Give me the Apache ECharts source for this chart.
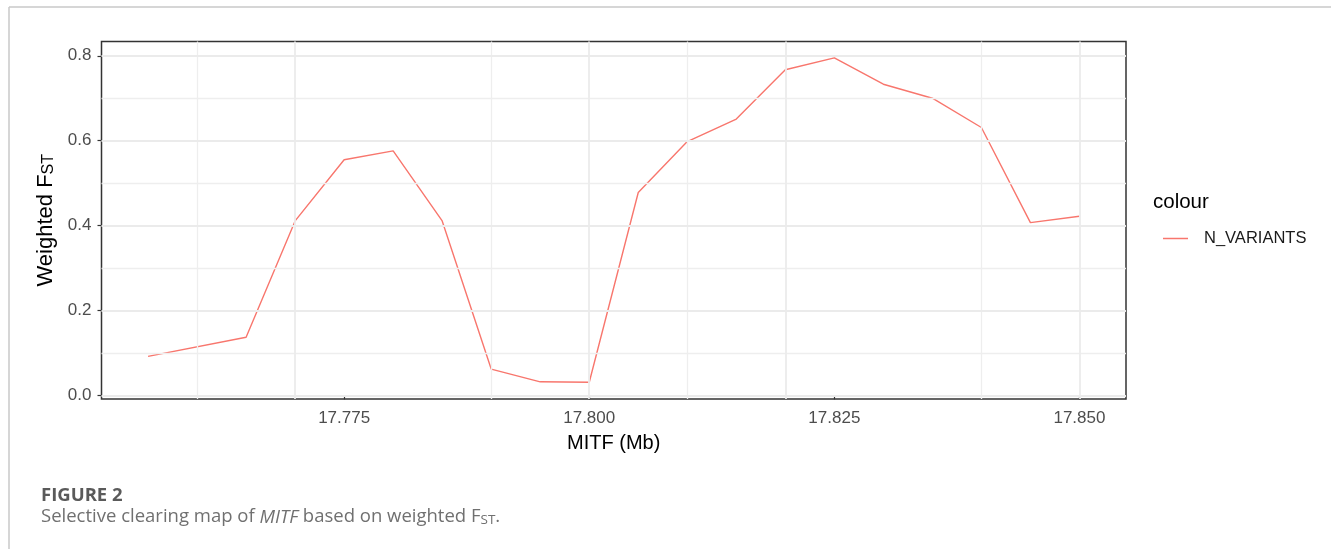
<!DOCTYPE html>
<html><head><meta charset="utf-8">
<script src="https://cdn.jsdelivr.net/npm/echarts@6/dist/echarts.min.js"></script>
<style>html,body{margin:0;padding:0;background:#fff}#c{width:1331px;height:549px}</style>
</head><body><div id="c"></div>
<script>
// ---- data ----
const positionsMb = [17.755, 17.765, 17.770, 17.775, 17.780, 17.785, 17.790, 17.795, 17.800, 17.805,
                     17.810, 17.815, 17.820, 17.825, 17.830, 17.835, 17.840, 17.845, 17.850];
const weightedFst = [0.092, 0.137, 0.411, 0.555, 0.576, 0.411, 0.062, 0.032, 0.031, 0.478,
                     0.598, 0.651, 0.767, 0.795, 0.733, 0.700, 0.631, 0.407, 0.422];
const xTickValues = [17.775, 17.800, 17.825, 17.850];
const xMinorValues = [17.7625, 17.7875, 17.8125, 17.8375];
const yTickValues = [0.0, 0.2, 0.4, 0.6, 0.8];
const yMinorValues = [0.1, 0.3, 0.5, 0.7];
const seriesName = 'N_VARIANTS';
const legendTitle = 'colour';
const xTitle = 'MITF (Mb)';
const figureLabel = 'FIGURE 2';

const chart = echarts.init(document.getElementById('c'), null, {renderer: 'canvas'});
const FONT = 'Liberation Sans';
const lineData = positionsMb.map((x, i) => [x, weightedFst[i]]);
const gridMajor = {color: '#ebebeb', width: 1.8, type: 'solid'};
const gridMinor = {color: '#eeeeee', width: 1.3, type: 'solid'};
const markData = [
  ...xMinorValues.map(v => ({xAxis: v, lineStyle: gridMinor})),
  ...yMinorValues.map(v => ({yAxis: v, lineStyle: gridMinor})),
  ...xTickValues.map(v => ({xAxis: v, lineStyle: gridMajor})),
  ...yTickValues.map(v => ({yAxis: v, lineStyle: gridMajor}))
];

chart.setOption({
  animation: false,
  backgroundColor: '#fff',
  grid: {left: 101.5, right: 205, top: 41.5, bottom: 150, show: true,
         borderColor: '#333', borderWidth: 1.5, backgroundColor: 'transparent', containLabel: false},
  xAxis: {
    type: 'value', min: 17.75025, max: 17.85475,
    name: xTitle, nameLocation: 'middle', nameGap: 34,
    nameTextStyle: {fontFamily: FONT, fontSize: 20, color: '#000'},
    axisLine: {show: false},
    axisTick: {show: true, customValues: xTickValues, length: 4, lineStyle: {color: '#333', width: 1.2}},
    axisLabel: {customValues: xTickValues, formatter: v => v.toFixed(3), color: '#4d4d4d',
                fontSize: 17, fontFamily: FONT, margin: 11},
    splitLine: {show: false}, minorSplitLine: {show: false}
  },
  yAxis: {
    type: 'value', min: -0.0085, max: 0.8336,
    name: '{a|Weighted F}{s|ST}', nameLocation: 'middle', nameGap: 41, nameRotate: 90,
    nameTextStyle: {fontFamily: FONT, fontSize: 22, color: '#000',
      rich: {a: {fontFamily: FONT, fontSize: 22, color: '#000', lineHeight: 26, verticalAlign: 'bottom'},
             s: {fontFamily: FONT, fontSize: 16, color: '#000', lineHeight: 16, verticalAlign: 'bottom'}}},
    axisLine: {show: false},
    axisTick: {show: true, customValues: yTickValues, length: 4, lineStyle: {color: '#333', width: 1.2}},
    axisLabel: {customValues: yTickValues, formatter: v => v.toFixed(1), color: '#4d4d4d',
                fontSize: 17, fontFamily: FONT, margin: 10},
    splitLine: {show: false}, minorSplitLine: {show: false}
  },
  legend: {
    data: [seriesName], left: 1158, top: 225, orient: 'vertical', selectedMode: false,
    icon: 'rect', itemWidth: 25, itemHeight: 1.5,
    textStyle: {fontFamily: FONT, fontSize: 16.5, color: '#1a1a1a', padding: [0, 0, 0, 11]}
  },
  series: [
    {type: 'line', name: 'grid', data: [], silent: true, z: -1,
     markLine: {silent: true, symbol: ['none', 'none'], label: {show: false}, animation: false,
                emphasis: {disabled: true}, data: markData}},
    {type: 'line', name: seriesName, data: lineData, showSymbol: false, symbol: 'none', z: 3,
     color: '#F8766D', itemStyle: {color: '#F8766D'},
     lineStyle: {color: '#F8766D', width: 1.4}}
  ],
  graphic: [
    {type: 'line', shape: {x1: 9, y1: 7, x2: 1331, y2: 7}, style: {stroke: '#c8c8c8', lineWidth: 1.5}},
    {type: 'line', shape: {x1: 9, y1: 7, x2: 9, y2: 549}, style: {stroke: '#c8c8c8', lineWidth: 1.5}},
    {type: 'text', left: 1153, top: 192, style: {text: legendTitle, font: '20.5px "Liberation Sans"', fill: '#000'}},
    {type: 'text', left: 41, top: 486, style: {text: figureLabel, font: 'bold 18.5px "Open Sans"', fill: '#5a5a5a'}},
    {type: 'text', left: 41, top: 507, style: {
      text: 'Selective clearing map of {i|MITF} based on weighted F{s|ST}.',
      font: '18.5px "Open Sans"', fill: '#707070',
      rich: {i: {fontStyle: 'italic', fontFamily: 'Open Sans', fontSize: 18.5, fill: '#707070', lineHeight: 22, verticalAlign: 'bottom'},
             s: {fontFamily: 'Open Sans', fontSize: 13.5, fill: '#707070', lineHeight: 15, verticalAlign: 'bottom'}}}}
  ]
});
</script>
</body></html>
